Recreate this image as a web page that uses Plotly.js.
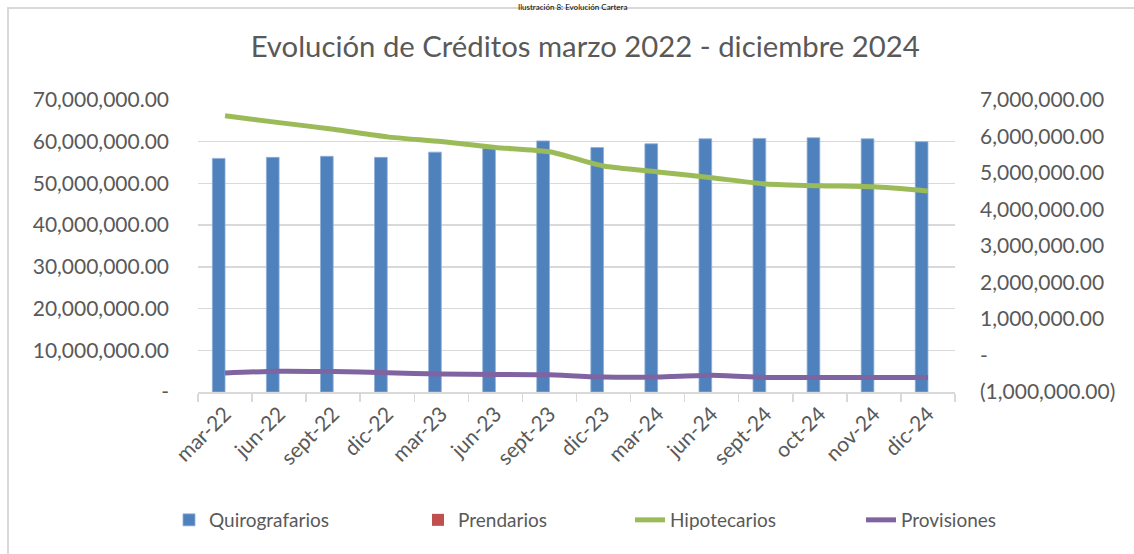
<!DOCTYPE html>
<html>
<head>
<meta charset="utf-8">
<script src="https://cdn.plot.ly/plotly-3.0.1.min.js"></script>
<style>
  html, body { margin: 0; padding: 0; background: #ffffff; }
  #chart { width: 1134px; height: 554px; }
</style>
</head>
<body>
<div id="chart"></div>
<script>
const categories = ['mar-22', 'jun-22', 'sept-22', 'dic-22', 'mar-23', 'jun-23', 'sept-23',
                    'dic-23', 'mar-24', 'jun-24', 'sept-24', 'oct-24', 'nov-24', 'dic-24'];
const quirografarios = [56.0e6, 56.25e6, 56.5e6, 56.25e6, 57.5e6, 58.4e6, 60.2e6,
                        58.6e6, 59.5e6, 60.7e6, 60.8e6, 60.95e6, 60.7e6, 60.0e6];
const prendarios = [0, 0, 0, 0, 0, 0, 0, 0, 0, 0, 0, 0, 0, 0];
const hipotecarios = [6.57e6, 6.38e6, 6.20e6, 5.99e6, 5.86e6, 5.70e6, 5.58e6,
                      5.19e6, 5.03e6, 4.87e6, 4.70e6, 4.65e6, 4.62e6, 4.51e6];
const provisiones = [-0.48e6, -0.43e6, -0.44e6, -0.47e6, -0.51e6, -0.52e6, -0.53e6,
                     -0.59e6, -0.59e6, -0.54e6, -0.60e6, -0.60e6, -0.60e6, -0.60e6];
const leftTickVals = [0, 10e6, 20e6, 30e6, 40e6, 50e6, 60e6, 70e6];
const leftTickText = ['-', '10,000,000.00', '20,000,000.00', '30,000,000.00', '40,000,000.00',
                      '50,000,000.00', '60,000,000.00', '70,000,000.00'];
const rightTickVals = [-1e6, 0, 1e6, 2e6, 3e6, 4e6, 5e6, 6e6, 7e6];
const rightTickText = ['(1,000,000.00)', '-', '1,000,000.00', '2,000,000.00', '3,000,000.00',
                       '4,000,000.00', '5,000,000.00', '6,000,000.00', '7,000,000.00'];
const chartTitle = 'Evolución de Créditos marzo 2022 - diciembre 2024';
const captionText = 'Ilustración 8: Evolución Cartera';

const FONT = 'Lato, "Open Sans", sans-serif';
const GREY = '#595959';
const GRID = '#d9d9d9';

const traces = [
  { type: 'bar', name: 'Quirografarios', x: categories, y: quirografarios,
    marker: { color: '#4f81bd', line: { color: '#8fb0d8', width: 0.8 } }, legend: 'legend', showlegend: true },
  { type: 'bar', name: 'Prendarios', x: categories, y: prendarios,
    marker: { color: '#c0504d' }, legend: 'legend2', showlegend: true },
  { type: 'scatter', mode: 'lines', name: 'Hipotecarios', x: categories, y: hipotecarios,
    yaxis: 'y2', line: { color: '#9bbb59', width: 5, shape: 'spline', smoothing: 0.6 },
    legend: 'legend3', showlegend: true },
  { type: 'scatter', mode: 'lines', name: 'Provisiones', x: categories, y: provisiones,
    yaxis: 'y2', line: { color: '#8064a2', width: 5, shape: 'spline', smoothing: 0.6 },
    legend: 'legend4', showlegend: true }
];

const legendBase = { orientation: 'h', xref: 'container', yref: 'container',
                     yanchor: 'middle', y: 1 - 520 / 554, xanchor: 'left',
                     font: { family: FONT, size: 19, color: GREY }, bgcolor: 'rgba(0,0,0,0)' };

const layout = {
  width: 1134, height: 554,
  showlegend: true,
  margin: { l: 198, r: 179, t: 100, b: 162.3 },
  paper_bgcolor: '#ffffff', plot_bgcolor: '#ffffff',
  font: { family: FONT, color: GREY },
  title: { text: chartTitle, x: 0.516, xanchor: 'center', y: 0.915, yanchor: 'middle',
           font: { family: FONT, size: 29.3, color: GREY } },
  barmode: 'group', bargap: 0.53, bargroupgap: 0,
  xaxis: { type: 'category', tickangle: -45, ticks: 'outside', tickson: 'boundaries',
           ticklen: 8, tickcolor: GRID, tickwidth: 1.5, showline: true, linecolor: GRID,
           linewidth: 1.5, showgrid: false, tickfont: { family: FONT, size: 21, color: GREY } },
  yaxis: { range: [0, 70e6], tickvals: leftTickVals, ticktext: leftTickText, showgrid: true,
           gridcolor: GRID, gridwidth: 1.5, zeroline: false, showline: false,
           ticklabelstandoff: 28, tickfont: { family: FONT, size: 21, color: GREY } },
  yaxis2: { range: [-1e6, 7e6], overlaying: 'y', side: 'right', tickvals: rightTickVals,
            ticktext: rightTickText, showgrid: false, zeroline: false, showline: false,
            ticklabelstandoff: 24, tickfont: { family: FONT, size: 21, color: GREY } },
  legend: Object.assign({}, legendBase, { x: 169 / 1134 }),
  legend2: Object.assign({}, legendBase, { x: 418 / 1134 }),
  legend3: Object.assign({}, legendBase, { x: 630 / 1134 }),
  legend4: Object.assign({}, legendBase, { x: 861 / 1134 }),
  shapes: [
    { type: 'rect', xref: 'paper', yref: 'paper', x0: -0.251, x1: 1.25, y0: -0.6, y1: 1.3154,
      line: { color: GRID, width: 2 }, fillcolor: 'rgba(0,0,0,0)', layer: 'below' }
  ],
  annotations: [
    { text: captionText, xref: 'paper', yref: 'paper', x: (572 - 198) / 757, y: 391.7 / 291.7,
      xanchor: 'center', yanchor: 'top', showarrow: false,
      font: { family: FONT, size: 8, color: '#000000' } }
  ]
};

Plotly.newPlot('chart', traces, layout, { displayModeBar: false, staticPlot: true });
</script>
</body>
</html>
